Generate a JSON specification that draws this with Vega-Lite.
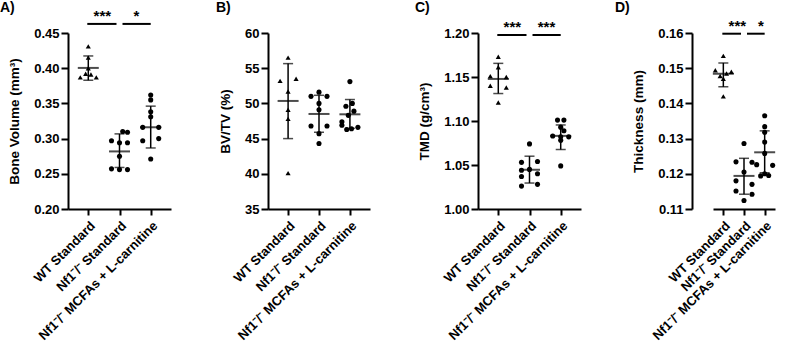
{
"$schema":"https://vega.github.io/schema/vega-lite/v6.json",
"padding":{"left":0,"top":0,"right":5,"bottom":0},
"datasets":{
"pts":[
{"p":"A","g":"WT","v":0.431,"c":0},{"p":"A","g":"WT","v":0.415,"c":0},{"p":"A","g":"WT","v":0.400,"c":0},{"p":"A","g":"WT","v":0.387,"c":-1},{"p":"A","g":"WT","v":0.392,"c":-0.33},{"p":"A","g":"WT","v":0.391,"c":0.33},{"p":"A","g":"WT","v":0.387,"c":1},
{"p":"A","g":"KO","v":0.310,"c":0.4},{"p":"A","g":"KO","v":0.309,"c":1},{"p":"A","g":"KO","v":0.297,"c":-1},{"p":"A","g":"KO","v":0.294,"c":0},{"p":"A","g":"KO","v":0.294,"c":1},{"p":"A","g":"KO","v":0.275,"c":0},{"p":"A","g":"KO","v":0.257,"c":-1},{"p":"A","g":"KO","v":0.256,"c":0},{"p":"A","g":"KO","v":0.256,"c":1},
{"p":"A","g":"KOM","v":0.362,"c":0},{"p":"A","g":"KOM","v":0.355,"c":0},{"p":"A","g":"KOM","v":0.338,"c":0},{"p":"A","g":"KOM","v":0.331,"c":0},{"p":"A","g":"KOM","v":0.316,"c":-1},{"p":"A","g":"KOM","v":0.316,"c":1},{"p":"A","g":"KOM","v":0.297,"c":-1},{"p":"A","g":"KOM","v":0.300,"c":1},{"p":"A","g":"KOM","v":0.271,"c":0},
{"p":"B","g":"WT","v":56.5,"c":0},{"p":"B","g":"WT","v":53.2,"c":-1},{"p":"B","g":"WT","v":53.5,"c":1},{"p":"B","g":"WT","v":51.7,"c":0},{"p":"B","g":"WT","v":49.1,"c":0},{"p":"B","g":"WT","v":47.8,"c":0},{"p":"B","g":"WT","v":40.1,"c":0},
{"p":"B","g":"KO","v":51.6,"c":0},{"p":"B","g":"KO","v":51.0,"c":-1},{"p":"B","g":"KO","v":51.0,"c":1},{"p":"B","g":"KO","v":50.0,"c":0},{"p":"B","g":"KO","v":49.1,"c":0},{"p":"B","g":"KO","v":46.8,"c":-1},{"p":"B","g":"KO","v":46.8,"c":1},{"p":"B","g":"KO","v":45.7,"c":0},{"p":"B","g":"KO","v":44.3,"c":0},
{"p":"B","g":"KOM","v":53.1,"c":0},{"p":"B","g":"KOM","v":50.0,"c":0.3},{"p":"B","g":"KOM","v":49.6,"c":-0.5},{"p":"B","g":"KOM","v":48.9,"c":0.5},{"p":"B","g":"KOM","v":48.3,"c":-0.2},{"p":"B","g":"KOM","v":47.4,"c":-1},{"p":"B","g":"KOM","v":46.9,"c":-1},{"p":"B","g":"KOM","v":46.6,"c":1},{"p":"B","g":"KOM","v":46.4,"c":0.2},{"p":"B","g":"KOM","v":46.3,"c":-0.4},
{"p":"C","g":"WT","v":1.173,"c":0},{"p":"C","g":"WT","v":1.161,"c":0},{"p":"C","g":"WT","v":1.151,"c":-1},{"p":"C","g":"WT","v":1.150,"c":1},{"p":"C","g":"WT","v":1.140,"c":-1},{"p":"C","g":"WT","v":1.138,"c":1},{"p":"C","g":"WT","v":1.121,"c":0},
{"p":"C","g":"KO","v":1.074,"c":0},{"p":"C","g":"KO","v":1.053,"c":-1},{"p":"C","g":"KO","v":1.054,"c":1},{"p":"C","g":"KO","v":1.044,"c":-1},{"p":"C","g":"KO","v":1.045,"c":0},{"p":"C","g":"KO","v":1.040,"c":1},{"p":"C","g":"KO","v":1.037,"c":-1},{"p":"C","g":"KO","v":1.028,"c":1},{"p":"C","g":"KO","v":1.026,"c":-1},
{"p":"C","g":"KOM","v":1.101,"c":-0.4},{"p":"C","g":"KOM","v":1.101,"c":0.4},{"p":"C","g":"KOM","v":1.093,"c":0},{"p":"C","g":"KOM","v":1.089,"c":0.4},{"p":"C","g":"KOM","v":1.083,"c":-1},{"p":"C","g":"KOM","v":1.082,"c":0},{"p":"C","g":"KOM","v":1.082,"c":1},{"p":"C","g":"KOM","v":1.078,"c":0},{"p":"C","g":"KOM","v":1.049,"c":0},
{"p":"D","g":"WT","v":0.1535,"c":0},{"p":"D","g":"WT","v":0.1494,"c":-1},{"p":"D","g":"WT","v":0.1490,"c":1},{"p":"D","g":"WT","v":0.1485,"c":0.4},{"p":"D","g":"WT","v":0.1478,"c":-0.4},{"p":"D","g":"WT","v":0.1470,"c":0},{"p":"D","g":"WT","v":0.1420,"c":0},
{"p":"D","g":"KO","v":0.1286,"c":0},{"p":"D","g":"KO","v":0.1234,"c":-1},{"p":"D","g":"KO","v":0.1233,"c":1},{"p":"D","g":"KO","v":0.1205,"c":0},{"p":"D","g":"KO","v":0.1180,"c":-1},{"p":"D","g":"KO","v":0.1170,"c":1},{"p":"D","g":"KO","v":0.1151,"c":-1},{"p":"D","g":"KO","v":0.1142,"c":1},{"p":"D","g":"KO","v":0.1124,"c":0},
{"p":"D","g":"KOM","v":0.1365,"c":0},{"p":"D","g":"KOM","v":0.1334,"c":0},{"p":"D","g":"KOM","v":0.1318,"c":0},{"p":"D","g":"KOM","v":0.1290,"c":0},{"p":"D","g":"KOM","v":0.1258,"c":0},{"p":"D","g":"KOM","v":0.1226,"c":-1},{"p":"D","g":"KOM","v":0.1224,"c":1},{"p":"D","g":"KOM","v":0.1200,"c":0},{"p":"D","g":"KOM","v":0.1194,"c":-0.5},{"p":"D","g":"KOM","v":0.1195,"c":0.5}
],
"sum":[
{"p":"A","g":"WT","m":0.4004,"lo":0.3829,"hi":0.4174},{"p":"A","g":"KO","m":0.2818,"lo":0.2590,"hi":0.3067},{"p":"A","g":"KOM","m":0.3161,"lo":0.2867,"hi":0.3461},
{"p":"B","g":"WT","m":50.35,"lo":45.0,"hi":55.65},{"p":"B","g":"KO","m":48.5,"lo":45.9,"hi":51.15},{"p":"B","g":"KOM","m":48.45,"lo":46.45,"hi":50.55},
{"p":"C","g":"WT","m":1.1478,"lo":1.1312,"hi":1.1655},{"p":"C","g":"KO","m":1.0446,"lo":1.0295,"hi":1.0600},{"p":"C","g":"KOM","m":1.0831,"lo":1.0676,"hi":1.0955},
{"p":"D","g":"WT","m":0.1484,"lo":0.1447,"hi":0.1515},{"p":"D","g":"KO","m":0.1194,"lo":0.1142,"hi":0.1244},{"p":"D","g":"KOM","m":0.1261,"lo":0.1203,"hi":0.1322}
],
"sig":[
{"p":"A","s":"L","g1":"WT","g2":"KO","y":0.4629,"lab":"***"},{"p":"A","s":"R","g1":"KO","g2":"KOM","y":0.4629,"lab":"*"},
{"p":"C","s":"L","g1":"WT","g2":"KO","y":1.1977,"lab":"***"},{"p":"C","s":"R","g1":"KO","g2":"KOM","y":1.1977,"lab":"***"},
{"p":"D","s":"L","g1":"WT","g2":"KO","y":0.1598,"lab":"***"},{"p":"D","s":"R","g1":"KO","g2":"KOM","y":0.1598,"lab":"*"}
]
},
"bounds":"flush",
"spacing":97,
"hconcat":[
{"width":103,"height":176,"title":{"text":"A)","dx":-68,"dy":14},
"layer":[
{"data":{"name":"pts"},"transform":[{"filter":"datum.p=='A'"}],"mark":{"type":"point","filled":true,"size":26,"color":"black","opacity":1,"strokeWidth":0},
"encoding":{"x":{"field":"g","type":"nominal","scale":{"type":"point","domain":["WT","KO","KOM"],"padding":0.65},"axis":{"title":null,"labelExpr":"datum.value=='WT'?'WT Standard':datum.value=='KO'?'Nf1⁻/⁻ Standard':'Nf1⁻/⁻ MCFAs + L-carnitine'"}},
"xOffset":{"field":"c","type":"quantitative","scale":{"domain":[-1,1],"range":[-8,8]}},
"y":{"field":"v","type":"quantitative","scale":{"domain":[0.2,0.45],"nice":false,"zero":false},"axis":{"title":"Bone Volume (mm³)","values":[0.2,0.25,0.3,0.35,0.4,0.45],"tickCount":10,"format":".2f","labelOverlap":false}},
"shape":{"field":"g","type":"nominal","scale":{"domain":["WT","KO","KOM"],"range":["triangle-up","circle","circle"]},"legend":null}}},
{"data":{"name":"sum"},"transform":[{"filter":"datum.p=='A'"}],"mark":{"type":"rule","color":"black","strokeWidth":1.5},"encoding":{"x":{"field":"g","type":"nominal"},"y":{"field":"lo","type":"quantitative"},"y2":{"field":"hi"}}},
{"data":{"name":"sum"},"transform":[{"filter":"datum.p=='A'"}],"mark":{"type":"tick","orient":"horizontal","color":"black","size":10,"thickness":1.5},"encoding":{"x":{"field":"g","type":"nominal"},"y":{"field":"lo","type":"quantitative"}}},
{"data":{"name":"sum"},"transform":[{"filter":"datum.p=='A'"}],"mark":{"type":"tick","orient":"horizontal","color":"black","size":10,"thickness":1.5},"encoding":{"x":{"field":"g","type":"nominal"},"y":{"field":"hi","type":"quantitative"}}},
{"data":{"name":"sum"},"transform":[{"filter":"datum.p=='A'"}],"mark":{"type":"tick","orient":"horizontal","color":"black","size":21,"thickness":2},"encoding":{"x":{"field":"g","type":"nominal"},"y":{"field":"m","type":"quantitative"}}},
{"data":{"name":"sig"},"transform":[{"filter":"datum.p=='A' && datum.s=='L'"}],"mark":{"type":"rule","color":"black","strokeWidth":2,"xOffset":-1,"x2Offset":-3},"encoding":{"x":{"field":"g1","type":"nominal"},"x2":{"field":"g2"},"y":{"field":"y","type":"quantitative"}}},
{"data":{"name":"sig"},"transform":[{"filter":"datum.p=='A' && datum.s=='R'"}],"mark":{"type":"rule","color":"black","strokeWidth":2,"xOffset":3,"x2Offset":0},"encoding":{"x":{"field":"g1","type":"nominal"},"x2":{"field":"g2"},"y":{"field":"y","type":"quantitative"}}},
{"data":{"name":"sig"},"transform":[{"filter":"datum.p=='A' && datum.s=='L'"}],"mark":{"type":"text","font":"Liberation Sans","fontSize":15,"fontWeight":"bold","color":"black","baseline":"alphabetic","dy":-3,"xOffset":14},"encoding":{"x":{"field":"g1","type":"nominal"},"y":{"field":"y","type":"quantitative"},"text":{"field":"lab"}}},
{"data":{"name":"sig"},"transform":[{"filter":"datum.p=='A' && datum.s=='R'"}],"mark":{"type":"text","font":"Liberation Sans","fontSize":15,"fontWeight":"bold","color":"black","baseline":"alphabetic","dy":-3,"xOffset":17},"encoding":{"x":{"field":"g1","type":"nominal"},"y":{"field":"y","type":"quantitative"},"text":{"field":"lab"}}}
]},
{"bounds":"flush","spacing":108,"hconcat":[
{"width":102,"height":176,"title":{"text":"B)","dx":-52,"dy":-4},
"layer":[
{"data":{"name":"pts"},"transform":[{"filter":"datum.p=='B'"}],"mark":{"type":"point","filled":true,"size":26,"color":"black","opacity":1,"strokeWidth":0},
"encoding":{"x":{"field":"g","type":"nominal","scale":{"type":"point","domain":["WT","KO","KOM"],"padding":0.65},"axis":{"title":null,"labelExpr":"datum.value=='WT'?'WT Standard':datum.value=='KO'?'Nf1⁻/⁻ Standard':'Nf1⁻/⁻ MCFAs + L-carnitine'"}},
"xOffset":{"field":"c","type":"quantitative","scale":{"domain":[-1,1],"range":[-8,8]}},
"y":{"field":"v","type":"quantitative","scale":{"domain":[35,60],"nice":false,"zero":false},"axis":{"title":"BV/TV (%)","values":[35,40,45,50,55,60],"tickCount":10,"labelOverlap":false}},
"shape":{"field":"g","type":"nominal","scale":{"domain":["WT","KO","KOM"],"range":["triangle-up","circle","circle"]},"legend":null}}},
{"data":{"name":"sum"},"transform":[{"filter":"datum.p=='B'"}],"mark":{"type":"rule","color":"black","strokeWidth":1.5},"encoding":{"x":{"field":"g","type":"nominal"},"y":{"field":"lo","type":"quantitative"},"y2":{"field":"hi"}}},
{"data":{"name":"sum"},"transform":[{"filter":"datum.p=='B'"}],"mark":{"type":"tick","orient":"horizontal","color":"black","size":10,"thickness":1.5},"encoding":{"x":{"field":"g","type":"nominal"},"y":{"field":"lo","type":"quantitative"}}},
{"data":{"name":"sum"},"transform":[{"filter":"datum.p=='B'"}],"mark":{"type":"tick","orient":"horizontal","color":"black","size":10,"thickness":1.5},"encoding":{"x":{"field":"g","type":"nominal"},"y":{"field":"hi","type":"quantitative"}}},
{"data":{"name":"sum"},"transform":[{"filter":"datum.p=='B'"}],"mark":{"type":"tick","orient":"horizontal","color":"black","size":21,"thickness":2},"encoding":{"x":{"field":"g","type":"nominal"},"y":{"field":"m","type":"quantitative"}}}
]},
{"bounds":"flush","spacing":111,"hconcat":[
{"width":103,"height":176,"title":{"text":"C)","dx":-63,"dy":3},
"layer":[
{"data":{"name":"pts"},"transform":[{"filter":"datum.p=='C'"}],"mark":{"type":"point","filled":true,"size":26,"color":"black","opacity":1,"strokeWidth":0},
"encoding":{"x":{"field":"g","type":"nominal","scale":{"type":"point","domain":["WT","KO","KOM"],"padding":0.65},"axis":{"title":null,"labelExpr":"datum.value=='WT'?'WT Standard':datum.value=='KO'?'Nf1⁻/⁻ Standard':'Nf1⁻/⁻ MCFAs + L-carnitine'"}},
"xOffset":{"field":"c","type":"quantitative","scale":{"domain":[-1,1],"range":[-8,8]}},
"y":{"field":"v","type":"quantitative","scale":{"domain":[1.0,1.2],"nice":false,"zero":false},"axis":{"title":"TMD (g/cm³)","values":[1.0,1.05,1.1,1.15,1.2],"tickCount":10,"format":".2f","labelOverlap":false}},
"shape":{"field":"g","type":"nominal","scale":{"domain":["WT","KO","KOM"],"range":["triangle-up","circle","circle"]},"legend":null}}},
{"data":{"name":"sum"},"transform":[{"filter":"datum.p=='C'"}],"mark":{"type":"rule","color":"black","strokeWidth":1.5},"encoding":{"x":{"field":"g","type":"nominal"},"y":{"field":"lo","type":"quantitative"},"y2":{"field":"hi"}}},
{"data":{"name":"sum"},"transform":[{"filter":"datum.p=='C'"}],"mark":{"type":"tick","orient":"horizontal","color":"black","size":10,"thickness":1.5},"encoding":{"x":{"field":"g","type":"nominal"},"y":{"field":"lo","type":"quantitative"}}},
{"data":{"name":"sum"},"transform":[{"filter":"datum.p=='C'"}],"mark":{"type":"tick","orient":"horizontal","color":"black","size":10,"thickness":1.5},"encoding":{"x":{"field":"g","type":"nominal"},"y":{"field":"hi","type":"quantitative"}}},
{"data":{"name":"sum"},"transform":[{"filter":"datum.p=='C'"}],"mark":{"type":"tick","orient":"horizontal","color":"black","size":21,"thickness":2},"encoding":{"x":{"field":"g","type":"nominal"},"y":{"field":"m","type":"quantitative"}}},
{"data":{"name":"sig"},"transform":[{"filter":"datum.p=='C' && datum.s=='L'"}],"mark":{"type":"rule","color":"black","strokeWidth":2,"xOffset":-1,"x2Offset":-3},"encoding":{"x":{"field":"g1","type":"nominal"},"x2":{"field":"g2"},"y":{"field":"y","type":"quantitative"}}},
{"data":{"name":"sig"},"transform":[{"filter":"datum.p=='C' && datum.s=='R'"}],"mark":{"type":"rule","color":"black","strokeWidth":2,"xOffset":3,"x2Offset":0},"encoding":{"x":{"field":"g1","type":"nominal"},"x2":{"field":"g2"},"y":{"field":"y","type":"quantitative"}}},
{"data":{"name":"sig"},"transform":[{"filter":"datum.p=='C' && datum.s=='L'"}],"mark":{"type":"text","font":"Liberation Sans","fontSize":15,"fontWeight":"bold","color":"black","baseline":"alphabetic","dy":-3,"xOffset":14},"encoding":{"x":{"field":"g1","type":"nominal"},"y":{"field":"y","type":"quantitative"},"text":{"field":"lab"}}},
{"data":{"name":"sig"},"transform":[{"filter":"datum.p=='C' && datum.s=='R'"}],"mark":{"type":"text","font":"Liberation Sans","fontSize":15,"fontWeight":"bold","color":"black","baseline":"alphabetic","dy":-3,"xOffset":17},"encoding":{"x":{"field":"g1","type":"nominal"},"y":{"field":"y","type":"quantitative"},"text":{"field":"lab"}}}
]},
{"width":98,"height":176,"title":{"text":"D)","dx":-77,"dy":4},
"layer":[
{"data":{"name":"pts"},"transform":[{"filter":"datum.p=='D'"}],"mark":{"type":"point","filled":true,"size":26,"color":"black","opacity":1,"strokeWidth":0},
"encoding":{"x":{"field":"g","type":"nominal","scale":{"type":"point","domain":["WT","KO","KOM"],"range":[21,83]},"axis":{"title":null,"labelExpr":"datum.value=='WT'?'WT Standard':datum.value=='KO'?'Nf1⁻/⁻ Standard':'Nf1⁻/⁻ MCFAs + L-carnitine'"}},
"xOffset":{"field":"c","type":"quantitative","scale":{"domain":[-1,1],"range":[-8,8]}},
"y":{"field":"v","type":"quantitative","scale":{"domain":[0.11,0.16],"nice":false,"zero":false},"axis":{"title":"Thickness (mm)","values":[0.11,0.12,0.13,0.14,0.15,0.16],"tickCount":10,"format":".2f","labelOverlap":false}},
"shape":{"field":"g","type":"nominal","scale":{"domain":["WT","KO","KOM"],"range":["triangle-up","circle","circle"]},"legend":null}}},
{"data":{"name":"sum"},"transform":[{"filter":"datum.p=='D'"}],"mark":{"type":"rule","color":"black","strokeWidth":1.5},"encoding":{"x":{"field":"g","type":"nominal"},"y":{"field":"lo","type":"quantitative"},"y2":{"field":"hi"}}},
{"data":{"name":"sum"},"transform":[{"filter":"datum.p=='D'"}],"mark":{"type":"tick","orient":"horizontal","color":"black","size":10,"thickness":1.5},"encoding":{"x":{"field":"g","type":"nominal"},"y":{"field":"lo","type":"quantitative"}}},
{"data":{"name":"sum"},"transform":[{"filter":"datum.p=='D'"}],"mark":{"type":"tick","orient":"horizontal","color":"black","size":10,"thickness":1.5},"encoding":{"x":{"field":"g","type":"nominal"},"y":{"field":"hi","type":"quantitative"}}},
{"data":{"name":"sum"},"transform":[{"filter":"datum.p=='D'"}],"mark":{"type":"tick","orient":"horizontal","color":"black","size":21,"thickness":2},"encoding":{"x":{"field":"g","type":"nominal"},"y":{"field":"m","type":"quantitative"}}},
{"data":{"name":"sig"},"transform":[{"filter":"datum.p=='D' && datum.s=='L'"}],"mark":{"type":"rule","color":"black","strokeWidth":2,"xOffset":-1,"x2Offset":-3},"encoding":{"x":{"field":"g1","type":"nominal"},"x2":{"field":"g2"},"y":{"field":"y","type":"quantitative"}}},
{"data":{"name":"sig"},"transform":[{"filter":"datum.p=='D' && datum.s=='R'"}],"mark":{"type":"rule","color":"black","strokeWidth":2,"xOffset":3,"x2Offset":0},"encoding":{"x":{"field":"g1","type":"nominal"},"x2":{"field":"g2"},"y":{"field":"y","type":"quantitative"}}},
{"data":{"name":"sig"},"transform":[{"filter":"datum.p=='D' && datum.s=='L'"}],"mark":{"type":"text","font":"Liberation Sans","fontSize":15,"fontWeight":"bold","color":"black","baseline":"alphabetic","dy":-3,"xOffset":14},"encoding":{"x":{"field":"g1","type":"nominal"},"y":{"field":"y","type":"quantitative"},"text":{"field":"lab"}}},
{"data":{"name":"sig"},"transform":[{"filter":"datum.p=='D' && datum.s=='R'"}],"mark":{"type":"text","font":"Liberation Sans","fontSize":15,"fontWeight":"bold","color":"black","baseline":"alphabetic","dy":-3,"xOffset":17},"encoding":{"x":{"field":"g1","type":"nominal"},"y":{"field":"y","type":"quantitative"},"text":{"field":"lab"}}}
]}
]}
]}
],
"config":{
"view":{"stroke":null},
"font":"Liberation Sans",
"axis":{"domainColor":"#000","domainWidth":2,"tickColor":"#000","tickWidth":2,"grid":false,"labelOverlap":false,"labelFont":"Liberation Sans","labelFontWeight":"bold","labelFontSize":13,"labelColor":"#000","titleFont":"Liberation Sans","titleFontWeight":"bold","titleFontSize":13.5,"titleColor":"#000"},
"axisY":{"tickSize":7,"labelPadding":2,"titlePadding":12},
"axisX":{"tickSize":6,"labelAngle":-45,"labelAlign":"right","labelBaseline":"top","labelPadding":4,"labelOverlap":false,"labelLimit":400,"labelFontSize":13},
"title":{"anchor":"start","frame":"group","font":"Liberation Sans","fontSize":14,"fontWeight":"bold","color":"#000","offset":8}
}
}
